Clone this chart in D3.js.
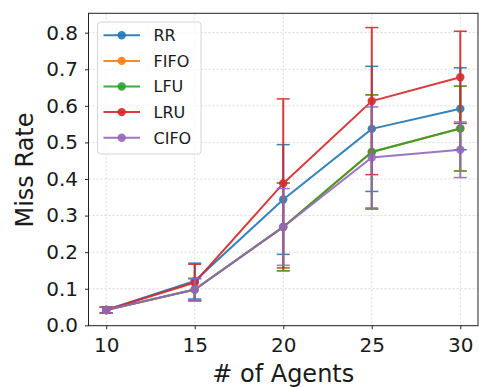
<!DOCTYPE html>
<html>
<head>
<meta charset="utf-8">
<script src="https://cdn.jsdelivr.net/npm/d3@7"></script>
<style>
  body { margin: 0; background: #fff; }
  svg { display: block; font-family: "DejaVu Sans", sans-serif; }
</style>
</head>
<body>
<div id="chart"></div>
<script>
// Constants for the chart
const CHART_WIDTH = 479;
const CHART_HEIGHT = 387;
const PLOT = { left: 88.5, right: 478, top: 13.3, bottom: 325.7 };

// Data
const agents = [10, 15, 20, 25, 30];
const xTicks = [10, 15, 20, 25, 30];
const yTicks = [0.0, 0.1, 0.2, 0.3, 0.4, 0.5, 0.6, 0.7, 0.8];
const seriesNames = ["RR", "FIFO", "LFU", "LRU", "CIFO"];
const seriesColors = ["#1f77b4", "#ff7f0e", "#2ca02c", "#d62728", "#9467bd"];

const rrMean = [0.042, 0.121, 0.344, 0.537, 0.592];
const rrErr = [0.008, 0.049, 0.150, 0.171, 0.112];
const fifoMean = [0.042, 0.098, 0.269, 0.474, 0.538];
const fifoErr = [0.008, 0.030, 0.120, 0.156, 0.116];
const lfuMean = [0.042, 0.098, 0.269, 0.474, 0.538];
const lfuErr = [0.008, 0.030, 0.120, 0.156, 0.116];
const lruMean = [0.042, 0.117, 0.388, 0.613, 0.678];
const lruErr = [0.008, 0.050, 0.231, 0.201, 0.126];
const cifoMean = [0.042, 0.098, 0.269, 0.459, 0.480];
const cifoErr = [0.008, 0.030, 0.105, 0.138, 0.076];

const means = [rrMean, fifoMean, lfuMean, lruMean, cifoMean];
const errs = [rrErr, fifoErr, lfuErr, lruErr, cifoErr];

const series = seriesNames.map((name, i) => ({
  name: name,
  color: seriesColors[i],
  points: agents.map((a, j) => ({ x: a, y: means[i][j], e: errs[i][j] }))
}));

const svg = d3.select("#chart").append("svg")
  .attr("width", CHART_WIDTH)
  .attr("height", CHART_HEIGHT);

const xScale = d3.scaleLinear().domain([9, 31]).range([PLOT.left, PLOT.right]);
const yScale = d3.scaleLinear().domain([-0.001, 0.853]).range([PLOT.bottom, PLOT.top]);

// grid
const grid = svg.append("g").attr("class", "grid");
grid.selectAll(".gx").data(xTicks).enter().append("line")
  .attr("x1", d => xScale(d)).attr("x2", d => xScale(d))
  .attr("y1", PLOT.top).attr("y2", PLOT.bottom)
  .attr("stroke", "#d9d9d9").attr("stroke-width", 1).attr("stroke-dasharray", "2,2");
grid.selectAll(".gy").data(yTicks).enter().append("line")
  .attr("x1", PLOT.left).attr("x2", PLOT.right)
  .attr("y1", d => yScale(d)).attr("y2", d => yScale(d))
  .attr("stroke", "#d9d9d9").attr("stroke-width", 1).attr("stroke-dasharray", "2,2");

// axes
const xAxis = d3.axisBottom(xScale).tickValues(xTicks).tickSize(3.5).tickPadding(9)
  .tickFormat(d3.format("d"));
const yAxis = d3.axisLeft(yScale).tickValues(yTicks).tickSize(3.5).tickPadding(7)
  .tickFormat(d3.format(".1f"));

const gx = svg.append("g").attr("transform", "translate(0," + PLOT.bottom + ")").call(xAxis);
const gy = svg.append("g").attr("transform", "translate(" + PLOT.left + ",0)").call(yAxis);
[gx, gy].forEach(g => {
  g.select(".domain").remove();
  g.selectAll("text").attr("font-size", 20).attr("fill", "#1a1a1a").attr("font-family", "DejaVu Sans");
  g.selectAll("line").attr("stroke", "#222");
});

// series: error bars, line, markers
const line = d3.line().x(d => xScale(d.x)).y(d => yScale(d.y));
const CAP = 6.5;

series.forEach(s => {
  const g = svg.append("g").attr("opacity", 0.9);
  g.selectAll(".ebar").data(s.points).enter().append("line")
    .attr("x1", d => xScale(d.x)).attr("x2", d => xScale(d.x))
    .attr("y1", d => yScale(d.y - d.e)).attr("y2", d => yScale(d.y + d.e))
    .attr("stroke", s.color).attr("stroke-width", 2);
  g.selectAll(".capLo").data(s.points).enter().append("line")
    .attr("x1", d => xScale(d.x) - CAP).attr("x2", d => xScale(d.x) + CAP)
    .attr("y1", d => yScale(d.y - d.e)).attr("y2", d => yScale(d.y - d.e))
    .attr("stroke", s.color).attr("stroke-width", 1.5);
  g.selectAll(".capHi").data(s.points).enter().append("line")
    .attr("x1", d => xScale(d.x) - CAP).attr("x2", d => xScale(d.x) + CAP)
    .attr("y1", d => yScale(d.y + d.e)).attr("y2", d => yScale(d.y + d.e))
    .attr("stroke", s.color).attr("stroke-width", 1.5);
  g.append("path").datum(s.points)
    .attr("d", line).attr("fill", "none")
    .attr("stroke", s.color).attr("stroke-width", 2);
  g.selectAll("circle").data(s.points).enter().append("circle")
    .attr("cx", d => xScale(d.x)).attr("cy", d => yScale(d.y))
    .attr("r", 4.2).attr("fill", s.color);
});

// frame
svg.append("rect")
  .attr("x", PLOT.left).attr("y", PLOT.top)
  .attr("width", PLOT.right - PLOT.left).attr("height", PLOT.bottom - PLOT.top)
  .attr("fill", "none").attr("stroke", "#222").attr("stroke-width", 1);

// legend
const legend = svg.append("g");
legend.append("rect")
  .attr("x", 97.5).attr("y", 22).attr("width", 103.5).attr("height", 132)
  .attr("rx", 3).attr("fill", "#fff").attr("fill-opacity", 0.8)
  .attr("stroke", "#d6d6d6").attr("stroke-width", 1);
const items = legend.selectAll(".item").data(series).enter().append("g")
  .attr("transform", (d, i) => "translate(0," + (35.3 + i * 25.6) + ")");
items.append("line")
  .attr("x1", 103.5).attr("x2", 140).attr("y1", 0).attr("y2", 0)
  .attr("stroke", d => d.color).attr("stroke-width", 2).attr("opacity", 0.9);
items.append("circle")
  .attr("cx", 121.7).attr("cy", 0).attr("r", 4.2)
  .attr("fill", d => d.color).attr("opacity", 0.9);
items.append("text")
  .attr("x", 153.5).attr("y", 5.8)
  .attr("font-size", 16).attr("fill", "#1a1a1a")
  .text(d => d.name);

// axis labels
svg.append("text")
  .attr("x", (PLOT.left + PLOT.right) / 2).attr("y", 382)
  .attr("text-anchor", "middle").attr("font-size", 24).attr("fill", "#1a1a1a")
  .text("# of Agents");
svg.append("text")
  .attr("transform", "translate(33," + 170 + ") rotate(-90)")
  .attr("text-anchor", "middle").attr("font-size", 24).attr("fill", "#1a1a1a")
  .text("Miss Rate");
</script>
</body>
</html>
